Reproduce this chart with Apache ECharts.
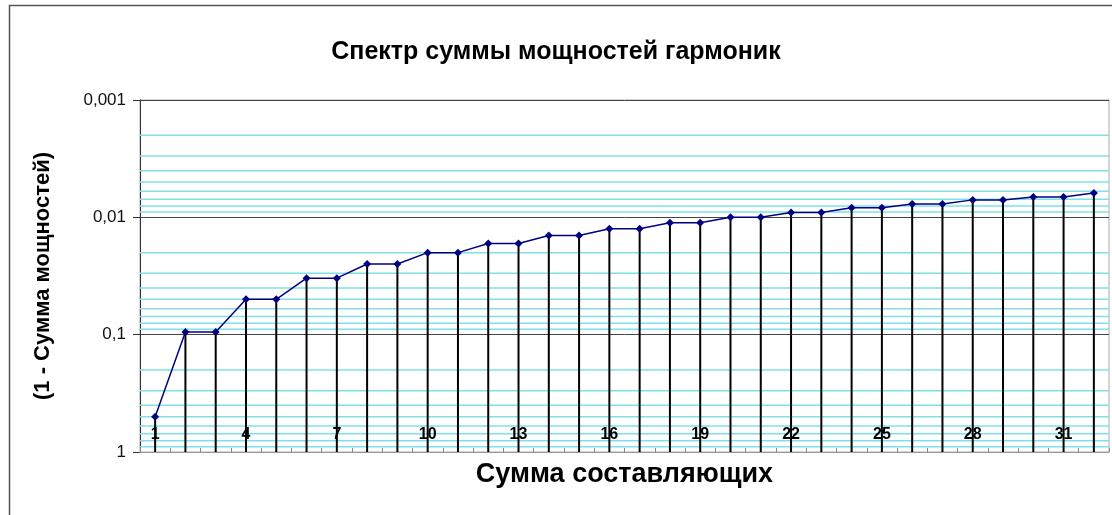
<!DOCTYPE html>
<html>
<head>
<meta charset="utf-8">
<script src="https://cdn.jsdelivr.net/npm/echarts@6/dist/echarts.min.js"></script>
<style>
  html, body { margin: 0; padding: 0; background: #fff; }
  #spektr { width: 1112px; height: 515px; }
</style>
</head>
<body>
<div id="spektr"></div>
<script>
// номера составляющих
var categories = [];
for (var n = 1; n <= 32; n++) categories.push(String(n));

// 1 - сумма мощностей
var values = [0.5, 0.095, 0.095, 0.05, 0.05, 0.033, 0.033, 0.025, 0.025, 0.02, 0.02,
  0.0167, 0.0167, 0.0143, 0.0143, 0.0125, 0.0125, 0.0111, 0.0111, 0.01, 0.01,
  0.0091, 0.0091, 0.0083, 0.0083, 0.0077, 0.0077, 0.0071, 0.0071, 0.0067, 0.0067, 0.0062];

// промежуточные линии сетки
var minorLines = [0.002, 0.003, 0.004, 0.005, 0.006, 0.007, 0.008, 0.009,
  0.02, 0.03, 0.04, 0.05, 0.06, 0.07, 0.08, 0.09,
  0.2, 0.3, 0.4, 0.5, 0.6, 0.7, 0.8, 0.9];

var font = '"Liberation Sans", Arial, sans-serif';

var chart = echarts.init(document.getElementById('spektr'));
chart.setOption({
  animation: false,
  backgroundColor: '#fff',
  textStyle: { fontFamily: font },
  graphic: [{
    type: 'rect',
    shape: { x: 9.5, y: 5.5, width: 1120, height: 530 },
    style: { fill: 'none', stroke: '#555', lineWidth: 1.5 },
    silent: true
  }],
  title: {
    text: 'Спектр суммы мощностей гармоник',
    left: 'center',
    top: 35,
    textStyle: { fontFamily: font, fontSize: 25, fontWeight: 'bold', color: '#000' }
  },
  grid: {
    left: 140, right: 3, top: 100, bottom: 63,
    show: true, borderColor: '#aaa', borderWidth: 1
  },
  xAxis: {
    type: 'category',
    z: 10,
    data: categories,
    boundaryGap: true,
    name: 'Сумма составляющих',
    nameLocation: 'middle',
    nameGap: 9,
    nameTextStyle: { fontFamily: font, fontSize: 27, fontWeight: 'bold', color: '#000', verticalAlign: 'top' },
    axisLine: { lineStyle: { color: '#999', width: 1 } },
    axisTick: { show: true, inside: true, length: 4, interval: 0, lineStyle: { color: '#888' } },
    axisLabel: {
      inside: true, interval: 2, margin: 9,
      fontFamily: font, fontSize: 16, fontWeight: 'bold', color: '#000'
    },
    splitLine: { show: false }
  },
  yAxis: {
    type: 'log',
    logBase: 10,
    min: 0.001,
    max: 1,
    inverse: true,
    name: '(1 - Сумма мощностей)',
    nameLocation: 'middle',
    nameGap: 86,
    nameTextStyle: { fontFamily: font, fontSize: 22, fontWeight: 'bold', color: '#000' },
    axisLine: { show: true, lineStyle: { color: '#333', width: 1 } },
    axisTick: { show: true, length: 7, lineStyle: { color: '#333' } },
    axisLabel: {
      margin: 14, fontFamily: font, fontSize: 17, color: '#111',
      formatter: function (v) { return String(+v.toPrecision(3)).replace('.', ','); }
    },
    splitLine: { show: true, lineStyle: { color: '#444', width: 1 } }
  },
  series: [
    {
      // бирюзовые промежуточные линии
      type: 'custom',
      z: 1,
      silent: true,
      data: minorLines.map(function (v) { return [0, v]; }),
      encode: { x: 0, y: 1 },
      renderItem: function (params, api) {
        var y = api.coord([0, api.value(1)])[1];
        var cs = params.coordSys;
        return {
          type: 'line',
          shape: { x1: cs.x, y1: y, x2: cs.x + cs.width, y2: y },
          style: { stroke: '#7fe0e8', lineWidth: 1.5 }
        };
      }
    },
    {
      // вертикальные линии до оси
      type: 'custom',
      z: 3,
      silent: true,
      data: values.map(function (v, i) { return [i, v]; }),
      encode: { x: 0, y: 1 },
      renderItem: function (params, api) {
        var top = api.coord([api.value(0), api.value(1)]);
        var bottom = api.coord([api.value(0), 1]);
        return {
          type: 'line',
          shape: { x1: top[0], y1: top[1], x2: bottom[0], y2: bottom[1] },
          style: { stroke: '#000', lineWidth: 2 }
        };
      }
    },
    {
      type: 'line',
      z: 5,
      data: values,
      symbol: 'diamond',
      symbolSize: 8,
      itemStyle: { color: '#000080' },
      lineStyle: { color: '#000080', width: 1.5 }
    }
  ]
});
</script>
</body>
</html>
